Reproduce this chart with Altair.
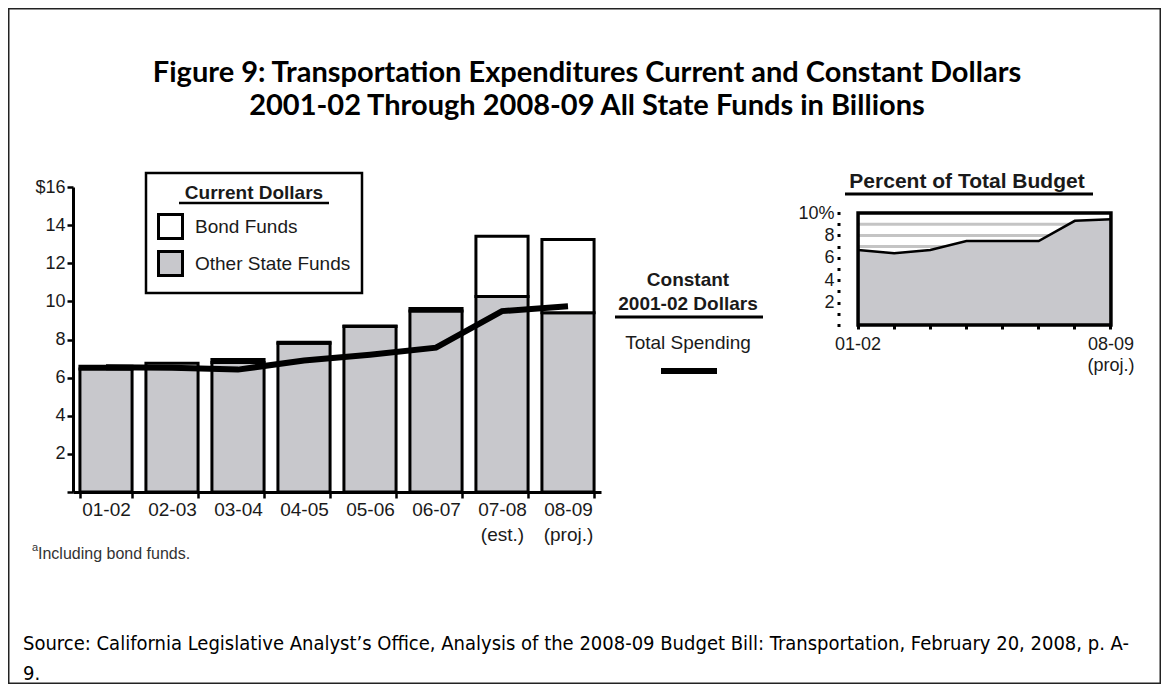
import altair as alt
import pandas as pd

# ---------------- data ----------------
years = ["01-02", "02-03", "03-04", "04-05", "05-06", "06-07", "07-08", "08-09"]
year_notes = ["", "", "", "", "", "", "(est.)", "(proj.)"]
other_state_funds = [6.45, 6.55, 6.8, 7.8, 8.68, 9.5, 10.25, 9.4]
bond_funds = [0.15, 0.2, 0.15, 0.05, 0.03, 0.12, 3.17, 3.85]
constant_total = [6.55, 6.52, 6.42, 6.9, 7.2, 7.57, 9.49, 9.75]
pct_of_budget = [6.7, 6.4, 6.7, 7.5, 7.5, 7.5, 9.3, 9.45]
series_names = ["Bond Funds", "Other State Funds"]
y_tick_values = [0, 2, 4, 6, 8, 10, 12, 14, 16]
y_tick_labels = ["", "2", "4", "6", "8", "10", "12", "14", "$16"]
pct_tick_values = [i / 2 for i in range(21)]
pct_label_values = [2, 4, 6, 8, 10]
pct_label_texts = ["2", "4", "6", "8", "10%"]
pct_grid_values = [1, 2, 3, 4, 5, 6, 7, 8, 9]

SANS = "Liberation Sans"
NARROW = "Liberation Sans Narrow, DejaVu Sans Condensed, Liberation Sans"
GRAY = "#c8c8cc"
INK = "#1a1a1a"

rows = []
for i, y in enumerate(years):
    rows.append({"year": y, "fund": "Other State Funds", "value": other_state_funds[i], "ord": 0})
    rows.append({"year": y, "fund": "Bond Funds", "value": bond_funds[i], "ord": 1})
bars_df = pd.DataFrame(rows)
line_df = pd.DataFrame({"year": years, "total": constant_total})
pct_df = pd.DataFrame({"year": years, "pct": pct_of_budget})
grid_df = pd.DataFrame({"g": pct_grid_values, "x0": years[0], "x1": years[-1]})
box_df = pd.DataFrame({"x0": [years[0]], "x1": [years[-1]], "y0": [0], "y1": [10]})

# ---------------- label expressions ----------------
def py_list(items):
    return "[" + ", ".join("'" + s + "'" for s in items) + "]"

x_expr = "datum.value"
for y, n in zip(years, year_notes):
    if n:
        x_expr = f"datum.value == '{y}' ? {py_list([y, n])} : " + x_expr

y_expr = "''"
for v, t in zip(y_tick_values, y_tick_labels):
    y_expr = f"datum.value == {v} ? '{t}' : " + y_expr

pct_expr = "''"
for v, t in zip(pct_label_values, pct_label_texts):
    pct_expr = f"datum.value == {v} ? '{t}' : " + pct_expr

inset_x_expr = (f"datum.value == '{years[0]}' ? '{years[0]}' : "
                f"datum.value == '{years[-1]}' ? {py_list([years[-1], year_notes[-1]])} : ''")

# ---------------- main chart ----------------
W, H = 1153, 676
x_main = alt.Scale(domain=years, range=[65, 593], paddingInner=0.21, paddingOuter=0.105)
y_main = alt.Scale(domain=[0, 16], range=[484, 179], nice=False)

bars = alt.Chart(bars_df).mark_bar(stroke="black", strokeWidth=3).encode(
    x=alt.X("year:N", scale=x_main, sort=years, title=None,
            axis=alt.Axis(orient="bottom", offset=484 - H, tickBand="extent", tickSize=6,
                          tickWidth=2.5, tickColor="black", domainColor="black", domainWidth=3,
                          labelAngle=0, labelFontSize=19, labelFont=SANS, labelColor=INK,
                          labelPadding=2, labelLineHeight=25, labelExpr=x_expr, grid=False)),
    y=alt.Y("sum(value):Q", scale=y_main, stack="zero", title=None,
            axis=alt.Axis(orient="left", offset=-65, values=y_tick_values, labelExpr=y_expr,
                          tickSize=6, tickWidth=2.5, tickColor="black", domainColor="black",
                          domainWidth=3, labelFontSize=18, labelFont=SANS, labelColor=INK,
                          labelPadding=2, grid=False)),
    fill=alt.Fill("fund:N", scale=alt.Scale(domain=series_names, range=["white", GRAY]),
                  legend=alt.Legend(orient="none", legendX=138, legendY=165,
                                    title="Current Dollars", titleFontSize=19, titleFont=SANS,
                                    titleFontWeight="bold", titleColor=INK, titleAnchor="middle",
                                    titlePadding=10, labelFontSize=19, labelFont=SANS,
                                    labelColor=INK, labelOffset=11, symbolType="square",
                                    symbolSize=576, symbolStrokeColor="black",
                                    symbolStrokeWidth=3, rowPadding=0, padding=11,
                                    strokeColor="black")),
    order=alt.Order("ord:Q"),
)

const_line = alt.Chart(line_df).mark_line(color="black", strokeWidth=6).encode(
    x=alt.X("year:N", scale=x_main, sort=years),
    y=alt.Y("total:Q", scale=y_main),
)

main = alt.layer(bars, const_line)

# ---------------- inset ----------------
x_inset = alt.Scale(domain=years, range=[832, 1121], padding=0)
y_inset = alt.Scale(domain=[0, 10], range=[317, 205], nice=False)

grid = alt.Chart(grid_df).mark_rule(color="#c4c4c4", strokeWidth=3).encode(
    x=alt.X("x0:O", scale=x_inset, sort=years,
            axis=alt.Axis(orient="bottom", offset=317 - H, tickSize=4, tickWidth=3,
                          tickColor="black", domain=False, labelAngle=0, labelFontSize=18,
                          labelFont=SANS, labelColor=INK, labelPadding=6, labelLineHeight=21,
                          labelFlush=False, labelExpr=inset_x_expr, grid=False, title=None)),
    x2="x1",
    y=alt.Y("g:Q", scale=y_inset,
            axis=alt.Axis(orient="left", offset=-832, values=pct_tick_values,
                          labelExpr=pct_expr, tickSize=3, tickWidth=3, tickColor="black",
                          domain=False, labelFontSize=18, labelFont=SANS, labelColor=INK,
                          labelPadding=3, labelFlush=False, grid=False, title=None)),
)

area = alt.Chart(pct_df).mark_area(color=GRAY, opacity=1).encode(
    x=alt.X("year:O", scale=x_inset, sort=years),
    y=alt.Y("pct:Q", scale=y_inset),
)
pct_line = alt.Chart(pct_df).mark_line(color="black", strokeWidth=2.5).encode(
    x=alt.X("year:O", scale=x_inset, sort=years),
    y=alt.Y("pct:Q", scale=y_inset),
)
box = alt.Chart(box_df).mark_rect(fill=None, stroke="black", strokeWidth=3.5).encode(
    x=alt.X("x0:O", scale=x_inset, sort=years),
    x2="x1",
    y=alt.Y("y0:Q", scale=y_inset),
    y2="y1",
)
inset = alt.layer(grid, area, pct_line, box)

# ---------------- annotations ----------------
one = alt.Data(values=[{}])


def label(txt, x, y, size, weight="normal", font=SANS, align="center", color=INK):
    return alt.Chart(one).mark_text(text=txt, fontSize=size, fontWeight=weight, font=font,
                                    align=align, baseline="middle", color=color).encode(
        x=alt.value(x), y=alt.value(y))


def hline(x1, x2, y, w):
    return alt.Chart(one).mark_rule(color="black", strokeWidth=w).encode(
        x=alt.value(x1), x2=alt.value(x2), y=alt.value(y))


annots = [
    label("Figure 9: Transportation Expenditures Current and Constant Dollars", 579, 65, 29,
          "bold", "Lato", color="black"),
    label("2001-02 Through 2008-09 All State Funds in Billions", 579, 98, 29, "bold", "Lato",
          color="black"),
    hline(171, 321, 195, 2.5),
    label("Constant", 680, 272, 19, "bold"),
    label("2001-02 Dollars", 680, 296, 19, "bold"),
    hline(607, 755, 309, 3),
    label("Total Spending", 680, 335, 19),
    hline(653, 709, 363, 6),
    label("Percent of Total Budget", 959, 174, 21, "bold"),
    hline(837, 1085, 186, 3),
    label("a", 24, 540, 11, align="left", color="#333"),
    label("Including bond funds.", 30, 546, 16, align="left", color="#333"),
    label("Source: California Legislative Analyst\u2019s Office, Analysis of the 2008-09 Budget "
          "Bill: Transportation, February 20, 2008, p. A-", 15, 636, 20, font=NARROW,
          align="left", color="black"),
    label("9.", 15, 666, 20, font=NARROW, align="left", color="black"),
]

chart = alt.layer(main, inset, *annots).resolve_scale(
    x="independent", y="independent"
).properties(
    width=W, height=H, padding=0, autosize=alt.AutoSizeParams(type="none"),
    background="white",
).configure_view(stroke="#222", strokeWidth=3).configure_legend(strokeWidth=2.5)

chart.save("out.html", embed_options={"renderer": "svg", "actions": False})
